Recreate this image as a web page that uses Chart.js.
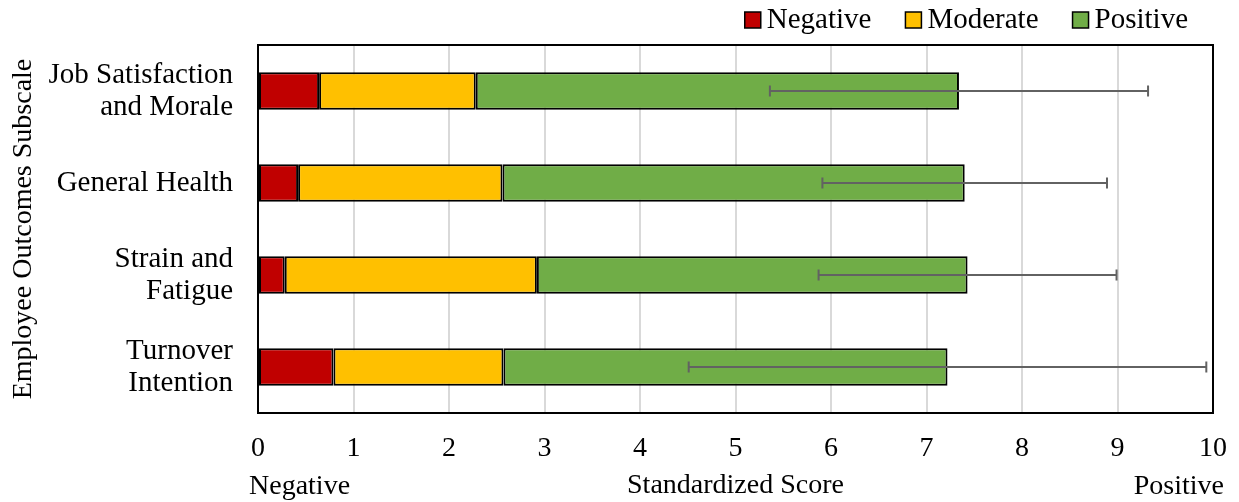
<!DOCTYPE html>
<html><head><meta charset="utf-8">
<script src="https://cdn.jsdelivr.net/npm/chart.js@4.4.1/dist/chart.umd.min.js"></script>
<style>html,body{margin:0;padding:0;background:#fff;} canvas{display:block;}</style>
</head><body>
<canvas id="c" width="1239" height="502"></canvas>
<script>
const categories = [['Job Satisfaction','and Morale'],['General Health'],['Strain and','Fatigue'],['Turnover','Intention']];
const seriesNames = ['Negative','Moderate','Positive'];
const negativeValues = [0.64, 0.42, 0.28, 0.79];
const moderateValues = [1.64, 2.14, 2.64, 1.78];
const positiveValues = [5.06, 4.84, 4.51, 4.65];
const errorValues = [1.98, 1.49, 1.56, 2.71];
const seriesColors = ['#C00000','#FFC000','#70AD47'];
const xTickMin = 0, xTickMax = 10, xTickStep = 1;
const xAxisTitle = 'Standardized Score';
const yAxisTitle = 'Employee Outcomes Subscale';
const xEndLabels = ['Negative','Positive'];

const FONT = '"Liberation Serif", "Times New Roman", serif';
const FS_LABEL = 29;
const FS_AXIS = 28;

const extras = {
  id: 'extras',
  afterDatasetsDraw(chart) {
    const {ctx, chartArea: a, scales: {x, y}} = chart;
    ctx.save();
    ctx.strokeStyle = '#626262';
    ctx.lineWidth = 2;
    const ds = chart.data.datasets;
    for (let i = 0; i < categories.length; i++) {
      let total = 0;
      ds.forEach(d => total += d.data[i]);
      const x0 = x.getPixelForValue(total - errorValues[i]);
      const x1 = x.getPixelForValue(total + errorValues[i]);
      const yc = y.getPixelForValue(i);
      ctx.beginPath();
      ctx.moveTo(x0, yc); ctx.lineTo(x1, yc);
      ctx.moveTo(x0, yc - 5.5); ctx.lineTo(x0, yc + 5.5);
      ctx.moveTo(x1, yc - 5.5); ctx.lineTo(x1, yc + 5.5);
      ctx.stroke();
    }
    ctx.strokeStyle = '#000';
    ctx.lineWidth = 2;
    ctx.strokeRect(a.left, a.top, a.right - a.left, a.bottom - a.top);
    ctx.restore();
  },
  afterDraw(chart) {
    const {ctx} = chart;
    ctx.save();
    ctx.font = FS_LABEL + 'px ' + FONT;
    ctx.fillStyle = '#000';
    ctx.textBaseline = 'alphabetic';
    // legend
    const box = 16, gap = 6, itemGap = 34;
    const names = chart.data.datasets.map(d => d.label);
    const widths = names.map(n => ctx.measureText(n).width);
    let total = widths.reduce((s, w) => s + box + gap + w, 0) + itemGap * (names.length - 1);
    let xx = 1188 - total;
    names.forEach((n, i) => {
      ctx.fillStyle = chart.data.datasets[i].backgroundColor;
      ctx.fillRect(xx, 12, box, box);
      ctx.strokeStyle = '#000';
      ctx.lineWidth = 1.5;
      ctx.strokeRect(xx, 12, box, box);
      ctx.fillStyle = '#000';
      ctx.textAlign = 'left';
      ctx.fillText(n, xx + box + gap, 28);
      xx += box + gap + widths[i] + itemGap;
    });
    // end labels under x axis
    ctx.font = FS_AXIS + 'px ' + FONT;
    const a = chart.chartArea;
    ctx.textAlign = 'left';
    ctx.fillText(xEndLabels[0], a.left - 9, 494);
    ctx.textAlign = 'right';
    ctx.fillText(xEndLabels[1], a.right + 11, 494);
    ctx.restore();
  }
};

const datasets = [negativeValues, moderateValues, positiveValues].map((vals, i) => ({
  label: seriesNames[i],
  data: vals,
  backgroundColor: seriesColors[i],
  borderColor: '#000',
  borderWidth: 2,
  borderSkipped: false,
  barPercentage: 0.41,
  categoryPercentage: 1.0
}));

function noPad(s) { s.paddingTop = 0; s.paddingBottom = 0; s.paddingLeft = 0; s.paddingRight = 0; }

new Chart(document.getElementById('c'), {
  type: 'bar',
  data: { labels: categories, datasets },
  options: {
    indexAxis: 'y',
    responsive: false,
    animation: false,
    layout: { padding: { top: 45, right: 26, bottom: 0, left: 0 } },
    plugins: { legend: { display: false }, tooltip: { enabled: false } },
    scales: {
      x: {
        stacked: true, min: xTickMin, max: xTickMax,
        ticks: { stepSize: xTickStep, color: '#000', font: { family: FONT, size: FS_AXIS }, padding: 19, maxRotation: 0, autoSkip: false },
        grid: { color: '#d9d9d9', lineWidth: 2, drawTicks: false },
        border: { display: false },
        title: { display: true, text: xAxisTitle, color: '#000', font: { family: FONT, size: FS_AXIS, lineHeight: 1.2 }, padding: { top: 0, bottom: 0 } },
        afterFit(s) { s.height = 89; noPad(s); }
      },
      y: {
        stacked: true,
        ticks: { color: '#000', font: { family: FONT, size: FS_LABEL, lineHeight: 1.1 }, padding: 25, autoSkip: false },
        grid: { display: false, drawTicks: false },
        border: { display: false },
        title: { display: true, text: yAxisTitle, color: '#000', font: { family: FONT, size: FS_AXIS, lineHeight: 1.2 }, padding: { top: 7, bottom: 0 } },
        afterFit(s) { s.width = 258; noPad(s); }
      }
    }
  },
  plugins: [extras]
});
</script>
</body></html>
